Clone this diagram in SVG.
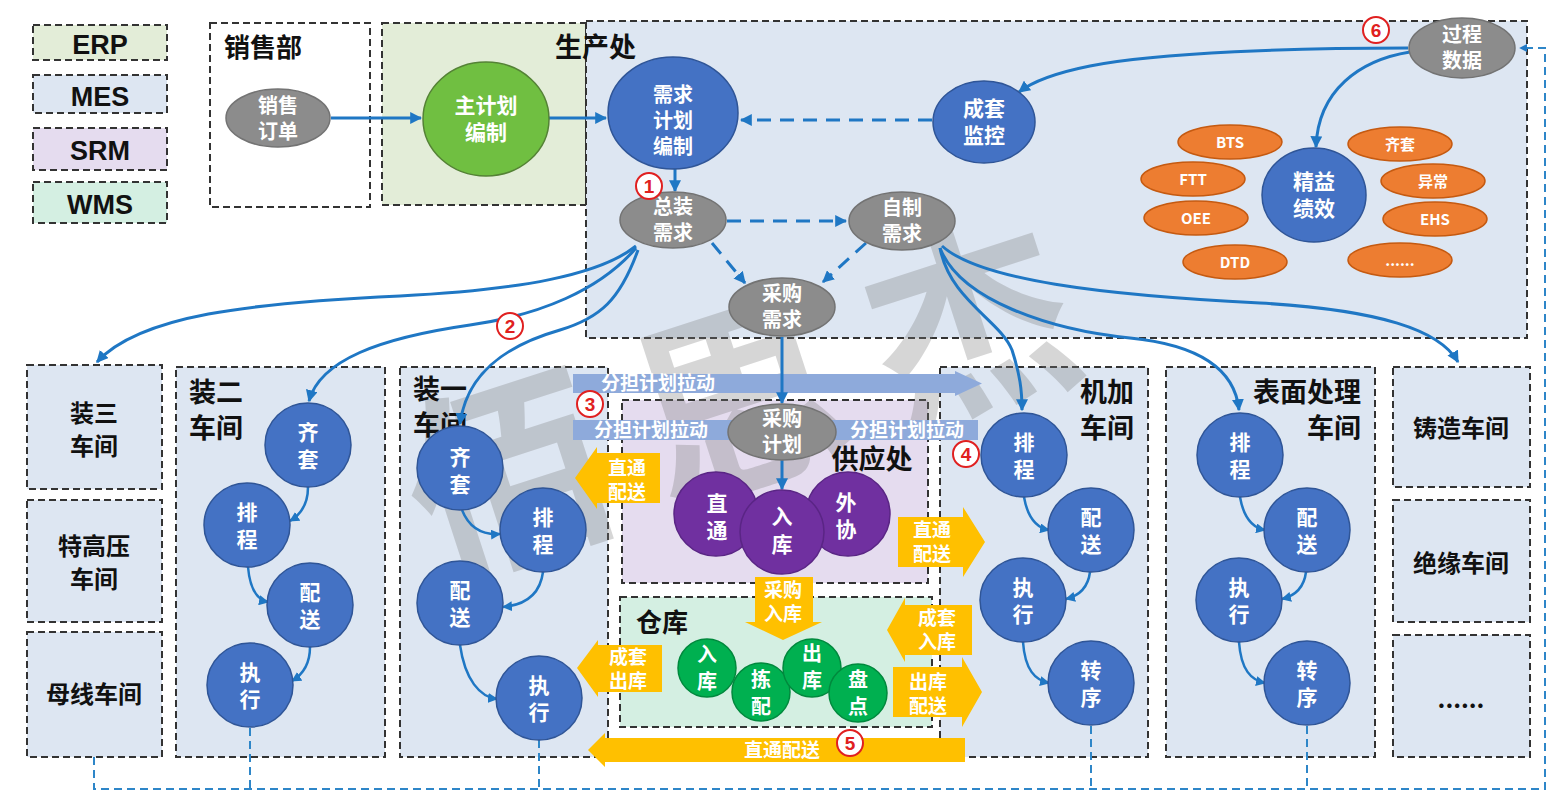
<svg xmlns="http://www.w3.org/2000/svg" width="1567" height="802" viewBox="0 0 1567 802">
<defs>
<style>
.box{stroke:#333;stroke-width:2;stroke-dasharray:7 4}
.erp{fill:#e3edd8}.mes{fill:#dde6f2}.srm{fill:#e5dcef}.wms{fill:#d4efe2}
.tw{fill:#fff;font-family:"Noto Sans CJK SC",sans-serif;font-weight:bold;text-anchor:middle}
.lb{fill:#111;font-family:"Noto Sans CJK SC",sans-serif;font-weight:bold}
.gray{fill:#8c8c8c;stroke:#737373;stroke-width:1.5}
.blue{fill:#4472c4;stroke:#2f5597;stroke-width:1.5}
.org{fill:#ed7d31;stroke:#c55a11;stroke-width:1.5}
.pur{fill:#7030a0;stroke:#5a2585;stroke-width:1.5}
.grn{fill:#00b050;stroke:#00893d;stroke-width:1.5}
.yel{fill:#ffc000}
.bar{fill:#8eaadb}
.c{fill:none;stroke:#1f77c4;stroke-width:3}
.cs{fill:none;stroke:#1f77c4;stroke-width:2.5}
.dsh{stroke-dasharray:14 9}
.fb{fill:none;stroke:#2e86c8;stroke-width:2;stroke-dasharray:8 5}
.num{fill:#fff;stroke:#e02020;stroke-width:2}
.nt{fill:#e02020;font-family:"Liberation Sans",sans-serif;font-weight:bold;font-size:19px;text-anchor:middle}
.leg{fill:#111;font-family:"Liberation Sans",sans-serif;font-weight:bold;font-size:27px;text-anchor:middle}
.v{font-size:21px}
</style>
<marker id="ah" viewBox="0 0 10 10" refX="9" refY="5" markerWidth="4" markerHeight="4" orient="auto">
<path d="M0,0 L10,5 L0,10 z" fill="#1f77c4"/>
</marker>
</defs>
<rect width="1567" height="802" fill="#ffffff"/>

<g id="legend">
<rect class="box erp" x="33" y="25" width="134" height="35"/>
<rect class="box mes" x="33" y="75" width="134" height="38"/>
<rect class="box srm" x="33" y="128" width="134" height="42"/>
<rect class="box wms" x="33" y="182" width="134" height="41"/>
<text class="leg" x="100" y="54">ERP</text>
<text class="leg" x="100" y="106">MES</text>
<text class="leg" x="100" y="160">SRM</text>
<text class="leg" x="100" y="214">WMS</text>
</g>

<g id="containers">
<rect id="sales" class="box" fill="#fff" x="210" y="23" width="160" height="184"/>
<rect id="erp-box" class="box erp" x="382" y="23" width="204" height="182"/>
<rect id="prod" class="box mes" x="586" y="21" width="941" height="317"/>
<rect id="ws3" class="box mes" x="27" y="365" width="135" height="124"/>
<rect id="wsthv" class="box mes" x="27" y="500" width="135" height="122"/>
<rect id="wsbus" class="box mes" x="27" y="632" width="135" height="125"/>
<rect id="ws2" class="box mes" x="176" y="367" width="209" height="390"/>
<rect id="ws1" class="box mes" x="400" y="367" width="208" height="390"/>
<rect id="wsmach" class="box mes" x="940" y="367" width="208" height="390"/>
<rect id="wssurf" class="box mes" x="1166" y="367" width="209" height="390"/>
<rect id="wscast" class="box mes" x="1393" y="367" width="137" height="120"/>
<rect id="wsins" class="box mes" x="1393" y="500" width="137" height="122"/>
<rect id="wsmore" class="box mes" x="1393" y="635" width="137" height="122"/>
<rect id="supply" class="box srm" x="622" y="400" width="306" height="183"/>
<rect id="wh" class="box wms" x="620" y="597" width="312" height="130"/>
</g>

<g id="watermark" transform="translate(740,404) rotate(-18)" opacity="0.3">
<text x="-243 0 243" y="72" font-size="205" font-weight="bold" fill="#7a7a7a" font-family="Noto Sans CJK SC, sans-serif" text-anchor="middle">佰思杰</text>
</g>

<g id="labels" class="lb">
<text x="224" y="57" font-size="26">销售部</text>
<text x="555" y="57" font-size="27">生产处</text>
<text x="189" y="402" font-size="27">装二<tspan x="189" dy="36">车间</tspan></text>
<text x="413" y="399" font-size="27">装一<tspan x="413" dy="36">车间</tspan></text>
<text x="1134" y="402" font-size="27" text-anchor="end">机加<tspan x="1134" dy="36">车间</tspan></text>
<text x="1361" y="402" font-size="27" text-anchor="end">表面处理<tspan x="1361" dy="36">车间</tspan></text>
<g font-size="24" text-anchor="middle">
<text x="94" y="422">装三<tspan x="94" dy="33">车间</tspan></text>
<text x="94" y="555">特高压<tspan x="94" dy="33">车间</tspan></text>
<text x="94" y="703">母线车间</text>
<text x="1461" y="437">铸造车间</text>
<text x="1461" y="572">绝缘车间</text>
<text x="1461" y="708">......</text>
</g>
<text x="872" y="469" font-size="27" text-anchor="middle">供应处</text>
<text x="662" y="632" font-size="26" text-anchor="middle">仓库</text>
</g>

<g id="bars">
<polygon class="bar" points="573,374 955,374 955,371 982,383.5 955,396 955,393 573,393"/>
<rect class="bar" x="573" y="420" width="405" height="20"/>
<g class="tw" font-size="19">
<text x="658" y="390">分担计划拉动</text>
<text x="651" y="437">分担计划拉动</text>
<text x="907" y="437">分担计划拉动</text>
</g>
</g>

<g id="connectors">
<path class="c" d="M331,118 L421,118" marker-end="url(#ah)"/>
<path class="c" d="M549,118 L606,118" marker-end="url(#ah)"/>
<path class="c dsh" d="M932,120 L741,120" marker-end="url(#ah)"/>
<path class="c" d="M675,169 L675,191" marker-end="url(#ah)"/>
<path class="c dsh" d="M727,221 L846,221" marker-end="url(#ah)"/>
<path class="c dsh" d="M712,243 L745,283" marker-end="url(#ah)"/>
<path class="c dsh" d="M866,243 L823,282" marker-end="url(#ah)"/>
<path class="c" d="M782,337 L782,403" marker-end="url(#ah)"/>
<path class="c" d="M782,460 L782,489" marker-end="url(#ah)"/>
<path class="c" d="M1408,48 C1300,48 1160,52 1090,66 C1055,73 1032,82 1019,92" marker-end="url(#ah)"/>
<path class="c" d="M1410,52 C1360,60 1318,90 1316,147" marker-end="url(#ah)"/>
<path class="c" d="M636,246 C600,275 520,290 400,296 C250,303 140,315 97,362" marker-end="url(#ah)"/>
<path class="c" d="M636,248 C600,290 540,315 470,325 C380,338 320,360 309,401" marker-end="url(#ah)"/>
<path class="c" d="M638,250 C620,300 600,318 560,330 C490,350 465,385 460,424" marker-end="url(#ah)"/>
<path class="c" d="M940,248 C950,300 1000,320 1012,350 C1020,375 1022,390 1022,410" marker-end="url(#ah)"/>
<path class="c" d="M940,248 C960,300 1050,330 1130,338 C1200,345 1235,370 1239,410" marker-end="url(#ah)"/>
<path class="c" d="M942,246 C980,280 1100,295 1260,303 C1380,310 1440,330 1458,362" marker-end="url(#ah)"/>
<path class="cs" d="M308,487 C308,505 300,515 290,521" marker-end="url(#ah)"/>
<path class="cs" d="M248,567 C250,590 258,600 268,602" marker-end="url(#ah)"/>
<path class="cs" d="M310,647 C310,665 302,675 292,681" marker-end="url(#ah)"/>
<path class="cs" d="M462,510 C470,530 485,535 500,534" marker-end="url(#ah)"/>
<path class="cs" d="M543,572 C540,595 525,605 503,607" marker-end="url(#ah)"/>
<path class="cs" d="M460,645 C465,680 480,697 497,699" marker-end="url(#ah)"/>
<path class="cs" d="M1024,497 C1028,520 1038,528 1049,530" marker-end="url(#ah)"/>
<path class="cs" d="M1090,572 C1088,588 1078,596 1066,599" marker-end="url(#ah)"/>
<path class="cs" d="M1023,642 C1025,670 1035,680 1049,683" marker-end="url(#ah)"/>
<path class="cs" d="M1240,497 C1244,520 1254,528 1265,530" marker-end="url(#ah)"/>
<path class="cs" d="M1306,572 C1304,588 1294,596 1282,599" marker-end="url(#ah)"/>
<path class="cs" d="M1239,642 C1241,670 1251,680 1265,683" marker-end="url(#ah)"/>
<path class="fb" d="M94,757 L94,789 L1545,789 L1545,48 L1520,48" marker-end="url(#ah)"/>
<path class="fb" d="M250,728 L250,789 M539,740 L539,789 M1091,726 L1091,789 M1307,726 L1307,789"/>
</g>

<g id="n-xsdd"><ellipse class="gray" cx="278" cy="118" rx="52" ry="29"/><text class="tw" font-size="20" x="278" y="113">销售<tspan x="278" dy="26">订单</tspan></text></g>
<g id="n-zjh"><ellipse cx="486" cy="119" rx="63" ry="57" fill="#70bf41" stroke="#548235" stroke-width="1.5"/><text class="tw" font-size="21" x="486" y="113">主计划<tspan x="486" dy="27">编制</tspan></text></g>
<g id="n-xqjh"><ellipse class="blue" cx="673" cy="113" rx="65" ry="56"/><text class="tw" font-size="20" x="673" y="102">需求<tspan x="673" dy="26">计划</tspan><tspan x="673" dy="26">编制</tspan></text></g>
<g id="n-ctjk"><ellipse class="blue" cx="984" cy="122" rx="51" ry="41"/><text class="tw" font-size="21" x="984" y="116">成套<tspan x="984" dy="27">监控</tspan></text></g>
<g id="n-zzxq"><ellipse class="gray" cx="673" cy="220" rx="53" ry="28"/><text class="tw" font-size="20" x="673" y="214">总装<tspan x="673" dy="26">需求</tspan></text></g>
<g id="n-zizhi"><ellipse class="gray" cx="902" cy="221" rx="53" ry="29"/><text class="tw" font-size="20" x="902" y="215">自制<tspan x="902" dy="26">需求</tspan></text></g>
<g id="n-cgxq"><ellipse class="gray" cx="782" cy="307" rx="53" ry="29"/><text class="tw" font-size="20" x="782" y="301">采购<tspan x="782" dy="26">需求</tspan></text></g>
<g id="n-gcsj"><ellipse class="gray" cx="1462" cy="48" rx="53" ry="30"/><text class="tw" font-size="20" x="1462" y="42">过程<tspan x="1462" dy="26">数据</tspan></text></g>
<g id="n-kpi">
<ellipse class="org" cx="1230" cy="142" rx="52" ry="17"/><text class="tw" font-size="15" x="1230" y="148">BTS</text>
<ellipse class="org" cx="1193" cy="179" rx="52" ry="17"/><text class="tw" font-size="15" x="1193" y="185">FTT</text>
<ellipse class="org" cx="1196" cy="218" rx="52" ry="17"/><text class="tw" font-size="15" x="1196" y="224">OEE</text>
<ellipse class="org" cx="1235" cy="262" rx="52" ry="17"/><text class="tw" font-size="15" x="1235" y="268">DTD</text>
<ellipse class="org" cx="1400" cy="144" rx="52" ry="17"/><text class="tw" font-size="15" x="1400" y="150">齐套</text>
<ellipse class="org" cx="1433" cy="181" rx="52" ry="17"/><text class="tw" font-size="15" x="1433" y="187">异常</text>
<ellipse class="org" cx="1435" cy="219" rx="52" ry="17"/><text class="tw" font-size="15" x="1435" y="225">EHS</text>
<ellipse class="org" cx="1400" cy="260" rx="52" ry="17"/><text class="tw" font-size="15" x="1400" y="266">......</text>
</g>
<g id="n-jyjx"><ellipse class="blue" cx="1314" cy="195" rx="52" ry="47"/><text class="tw" font-size="21" x="1314" y="189">精益<tspan x="1314" dy="27">绩效</tspan></text></g>

<g id="ws2-nodes">
<g id="ws2-qt"><ellipse class="blue" cx="308" cy="445" rx="43" ry="42"/><text class="tw v" x="308" y="440">齐<tspan x="308" dy="27">套</tspan></text></g>
<g id="ws2-pc"><ellipse class="blue" cx="247" cy="525" rx="43" ry="42"/><text class="tw v" x="247" y="520">排<tspan x="247" dy="27">程</tspan></text></g>
<g id="ws2-ps"><ellipse class="blue" cx="310" cy="605" rx="43" ry="42"/><text class="tw v" x="310" y="600">配<tspan x="310" dy="27">送</tspan></text></g>
<g id="ws2-zx"><ellipse class="blue" cx="250" cy="685" rx="43" ry="42"/><text class="tw v" x="250" y="680">执<tspan x="250" dy="27">行</tspan></text></g>
</g>
<g id="ws1-nodes">
<g id="ws1-qt"><ellipse class="blue" cx="460" cy="468" rx="43" ry="42"/><text class="tw v" x="460" y="465">齐<tspan x="460" dy="27">套</tspan></text></g>
<g id="ws1-pc"><ellipse class="blue" cx="543" cy="530" rx="43" ry="42"/><text class="tw v" x="543" y="525">排<tspan x="543" dy="27">程</tspan></text></g>
<g id="ws1-ps"><ellipse class="blue" cx="460" cy="603" rx="43" ry="42"/><text class="tw v" x="460" y="598">配<tspan x="460" dy="27">送</tspan></text></g>
<g id="ws1-zx"><ellipse class="blue" cx="539" cy="698" rx="43" ry="42"/><text class="tw v" x="539" y="693">执<tspan x="539" dy="27">行</tspan></text></g>
</g>
<g id="wsm-nodes">
<g id="wsm-pc"><ellipse class="blue" cx="1024" cy="455" rx="43" ry="42"/><text class="tw v" x="1024" y="450">排<tspan x="1024" dy="27">程</tspan></text></g>
<g id="wsm-ps"><ellipse class="blue" cx="1091" cy="530" rx="43" ry="42"/><text class="tw v" x="1091" y="525">配<tspan x="1091" dy="27">送</tspan></text></g>
<g id="wsm-zx"><ellipse class="blue" cx="1023" cy="600" rx="43" ry="42"/><text class="tw v" x="1023" y="595">执<tspan x="1023" dy="27">行</tspan></text></g>
<g id="wsm-zs"><ellipse class="blue" cx="1091" cy="683" rx="43" ry="42"/><text class="tw v" x="1091" y="678">转<tspan x="1091" dy="27">序</tspan></text></g>
</g>
<g id="wss-nodes">
<g id="wss-pc"><ellipse class="blue" cx="1240" cy="455" rx="43" ry="42"/><text class="tw v" x="1240" y="450">排<tspan x="1240" dy="27">程</tspan></text></g>
<g id="wss-ps"><ellipse class="blue" cx="1307" cy="530" rx="43" ry="42"/><text class="tw v" x="1307" y="525">配<tspan x="1307" dy="27">送</tspan></text></g>
<g id="wss-zx"><ellipse class="blue" cx="1239" cy="600" rx="43" ry="42"/><text class="tw v" x="1239" y="595">执<tspan x="1239" dy="27">行</tspan></text></g>
<g id="wss-zs"><ellipse class="blue" cx="1307" cy="683" rx="43" ry="42"/><text class="tw v" x="1307" y="678">转<tspan x="1307" dy="27">序</tspan></text></g>
</g>

<g id="n-cgjh"><ellipse class="gray" cx="782" cy="432" rx="54" ry="28"/><text class="tw" font-size="20" x="782" y="426">采购<tspan x="782" dy="26">计划</tspan></text></g>
<g id="supply-nodes">
<circle class="pur" cx="716" cy="514" r="42"/>
<circle class="pur" cx="848" cy="514" r="42"/>
<circle class="pur" cx="782" cy="532" r="42"/>
<g class="tw" font-size="21">
<text x="717" y="511">直<tspan x="717" dy="27">通</tspan></text>
<text x="782" y="524">入<tspan x="782" dy="28">库</tspan></text>
<text x="846" y="510">外<tspan x="846" dy="27">协</tspan></text>
</g>
</g>
<g id="wh-nodes">
<circle class="grn" cx="707" cy="668" r="29"/>
<circle class="grn" cx="761" cy="692" r="29"/>
<circle class="grn" cx="812" cy="668" r="29"/>
<circle class="grn" cx="858" cy="693" r="29"/>
<g class="tw" font-size="20">
<text x="707" y="662">入<tspan x="707" dy="27">库</tspan></text>
<text x="761" y="687">拣<tspan x="761" dy="27">配</tspan></text>
<text x="812" y="661">出<tspan x="812" dy="27">库</tspan></text>
<text x="858" y="687">盘<tspan x="858" dy="27">点</tspan></text>
</g>
</g>

<g id="flows">
<polygon class="yel" points="660,453 597,453 597,447 575,478 597,509 597,503 660,503"/>
<polygon class="yel" points="898,517 963,517 963,507 985,542 963,577 963,567 898,567"/>
<polygon class="yel" points="972,605 905,605 905,598 887,630 905,662 905,655 972,655"/>
<polygon class="yel" points="893,667 962,667 962,657 982,692 962,727 962,717 893,717"/>
<polygon class="yel" points="662,645 598,645 598,640 577,668 598,697 598,692 662,692"/>
<polygon class="yel" points="755,577 813,577 813,622 822,622 783,640 745,622 755,622"/>
<polygon class="yel" points="965,738 605,738 605,733 588,750 605,767 605,762 965,762"/>
<g class="tw" font-size="19">
<text x="627" y="475">直通<tspan x="627" dy="24">配送</tspan></text>
<text x="932" y="537">直通<tspan x="932" dy="24">配送</tspan></text>
<text x="937" y="625">成套<tspan x="937" dy="24">入库</tspan></text>
<text x="928" y="689">出库<tspan x="928" dy="24">配送</tspan></text>
<text x="628" y="664">成套<tspan x="628" dy="24">出库</tspan></text>
<text x="783" y="597">采购<tspan x="783" dy="24">入库</tspan></text>
<text x="782" y="757">直通配送</text>
</g>
</g>

<g id="steps">
<circle class="num" cx="649" cy="186" r="13"/><text class="nt" x="649" y="193">1</text>
<circle class="num" cx="510" cy="326" r="13"/><text class="nt" x="510" y="333">2</text>
<circle class="num" cx="590" cy="404" r="13"/><text class="nt" x="590" y="411">3</text>
<circle class="num" cx="966" cy="454" r="13"/><text class="nt" x="966" y="461">4</text>
<circle class="num" cx="850" cy="743" r="13"/><text class="nt" x="850" y="750">5</text>
<circle class="num" cx="1376" cy="30" r="13"/><text class="nt" x="1376" y="37">6</text>
</g>
</svg>
